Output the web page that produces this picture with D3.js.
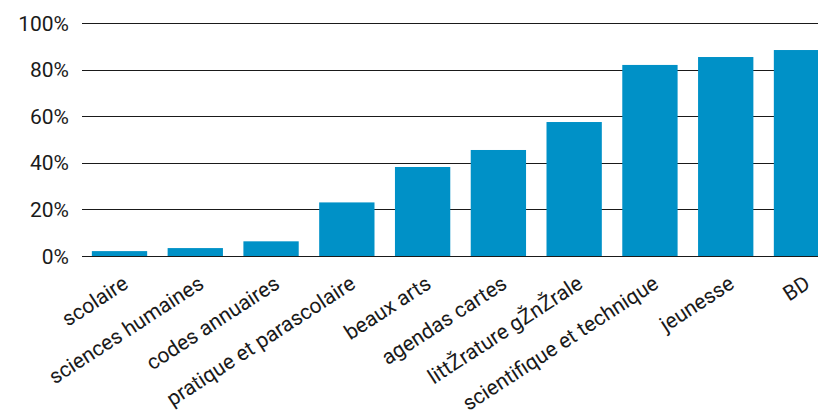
<!DOCTYPE html>
<html>
<head>
<meta charset="utf-8">
<script src="https://cdn.jsdelivr.net/npm/d3@7"></script>
<style>
  body { margin: 0; background: #fff; }
  text { font-family: Roboto, sans-serif; }
</style>
</head>
<body>
<svg width="818" height="418"></svg>
<script>
// categories and shares
const categories = ['scolaire', 'sciences humaines', 'codes annuaires', 'pratique et parascolaire',
  'beaux arts', 'agendas cartes', 'littŽrature gŽnŽrale', 'scientifique et technique', 'jeunesse', 'BD'];
const shares = [0.021, 0.034, 0.063, 0.23, 0.382, 0.455, 0.575, 0.82, 0.854, 0.884];
const yTicks = [0, 0.2, 0.4, 0.6, 0.8, 1];

const data = categories.map((c, i) => ({ cat: c, val: shares[i] }));

const svg = d3.select('svg'),
      plotLeft = 82, plotRight = 839, plotTop = 23, plotBottom = 256;

const x = d3.scaleBand()
            .domain(categories)
            .range([plotLeft, plotRight])
            .paddingInner(0.27)
            .paddingOuter(0.13);
const y = d3.scaleLinear()
            .domain([0, 1])
            .range([plotBottom, plotTop]);

// gridlines
svg.append('g')
    .selectAll('line')
    .data(yTicks)
    .join('line')
      .attr('x1', plotLeft)
      .attr('x2', 818)
      .attr('y1', d => Math.round(y(d)) + 0.5)
      .attr('y2', d => Math.round(y(d)) + 0.5)
      .attr('stroke', '#1a1a1a')
      .attr('stroke-width', 1);

// y tick labels
svg.append('g')
    .selectAll('text')
    .data(yTicks)
    .join('text')
      .attr('x', 69)
      .attr('y', d => y(d))
      .attr('dy', '0.36em')
      .attr('text-anchor', 'end')
      .attr('font-size', 21)
      .attr('fill', '#1a1a1a')
      .text(d3.format('.0%'));

// bars
svg.append('g')
    .selectAll('rect')
    .data(data)
    .join('rect')
      .attr('x', d => x(d.cat))
      .attr('y', d => y(d.val))
      .attr('width', x.bandwidth())
      .attr('height', d => y(0) - y(d.val))
      .attr('fill', '#0091c7');

// category labels, rotated
svg.append('g')
    .selectAll('text')
    .data(data)
    .join('text')
      .attr('text-anchor', 'end')
      .attr('font-size', 21)
      .attr('fill', '#1a1a1a')
      .attr('transform', d => 'translate(' + (x(d.cat) + x.bandwidth() / 2 + 10) + ',287) rotate(-33)')
      .text(d => d.cat);
</script>
</body>
</html>
